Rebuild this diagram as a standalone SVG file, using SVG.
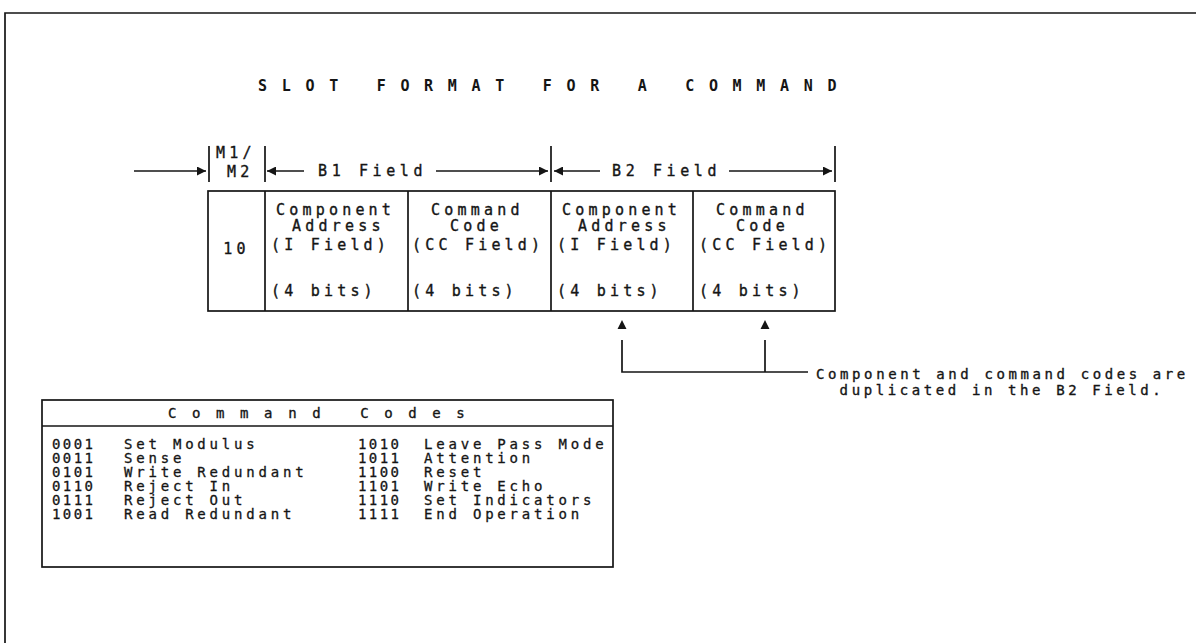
<svg xmlns="http://www.w3.org/2000/svg" width="1196" height="643" viewBox="0 0 1196 643">
<defs>
<style>
text{font-family:"DejaVu Sans Mono","Liberation Mono",monospace;fill:#151515;stroke:#151515;stroke-width:0.35}
.t{font-size:15px;letter-spacing:4.2px}
.s{font-size:14px;letter-spacing:3.8px;stroke-width:0.3}
.c{font-size:14px;letter-spacing:2.4px;stroke-width:0.3}
.n{font-size:14px;letter-spacing:3.6px}
.ttl{font-size:15px;font-weight:bold;letter-spacing:14.7px;stroke-width:0}
.hd{font-size:14px;letter-spacing:15.6px}
.f{font-size:15px;letter-spacing:4.6px}
.ln{stroke:#151515;stroke-width:1.7;fill:none}
</style>
<marker id="ah" viewBox="0 0 10 10" refX="10" refY="5" markerWidth="10" markerHeight="9" markerUnits="userSpaceOnUse" orient="auto">
<path d="M0,0 L10,5 L0,10 z" fill="#151515"/>
</marker>
</defs>
<rect width="1196" height="643" fill="#fff"/>
<g id="frame">
<path class="ln" d="M5,643 V13 H1196" stroke-width="2"/>
</g>
<g id="title"><text class="ttl" x="258" y="91">SLOT FORMAT FOR A COMMAND</text></g>
<g id="slot">
<rect class="ln" x="208" y="191" width="627" height="120"/>
<path class="ln" d="M265,191 V311 M408,191 V311 M551,191 V311 M693,191 V311"/>
<text class="t" x="236.5" y="254" text-anchor="middle" letter-spacing="1.5">10</text>
<text class="t" x="276" y="215">Component</text>
<text class="t" x="292" y="231">Address</text>
<text class="t" x="271" y="250">(I Field)</text>
<text class="t" x="271" y="296">(4 bits)</text>
<text class="t" x="431" y="215">Command</text>
<text class="t" x="450" y="231">Code</text>
<text class="t" x="412" y="250">(CC Field)</text>
<text class="t" x="412" y="296">(4 bits)</text>
<text class="t" x="562" y="215">Component</text>
<text class="t" x="578" y="231">Address</text>
<text class="t" x="557" y="250">(I Field)</text>
<text class="t" x="557" y="296">(4 bits)</text>
<text class="t" x="716" y="215">Command</text>
<text class="t" x="736" y="231">Code</text>
<text class="t" x="699" y="250">(CC Field)</text>
<text class="t" x="699" y="296">(4 bits)</text>
</g>
<g id="field-labels">
<text class="t" x="216" y="158" letter-spacing="1">M1/</text>
<text class="t" x="227" y="177" letter-spacing="1">M2</text>
<text class="f" x="318" y="176">B1 Field</text>
<text class="f" x="612" y="176">B2 Field</text>
</g>
<g id="connectors">
<path class="ln" d="M209,146 V182 M265,146 V182 M551,146 V182 M835,146 V182"/>
<path class="ln" d="M134,171 H206" marker-end="url(#ah)"/>
<path class="ln" d="M304,171 H267" marker-end="url(#ah)"/>
<path class="ln" d="M436,171 H548" marker-end="url(#ah)"/>
<path class="ln" d="M600,171 H554" marker-end="url(#ah)"/>
<path class="ln" d="M729,171 H832" marker-end="url(#ah)"/>
<path class="ln" d="M622,340 V372 H808 M765,340 V372"/>
<path d="M622,320 L626.5,329 L617.5,329 z M765,320 L769.5,329 L760.5,329 z" fill="#151515"/>
</g>
<g id="note">
<text class="n" x="816" y="379">Component and command codes are</text>
<text class="n" x="1002" y="395" text-anchor="middle">duplicated in the B2 Field.</text>
</g>
<g id="codes-table">
<rect class="ln" x="42" y="400" width="571" height="167"/>
<path class="ln" d="M42,426 H613"/>
<text class="hd" x="168" y="418">Command Codes</text>
<text class="c" x="52" y="449">0001</text><text class="s" x="124" y="449">Set Modulus</text>
<text class="c" x="52" y="463">0011</text><text class="s" x="124" y="463">Sense</text>
<text class="c" x="52" y="477">0101</text><text class="s" x="124" y="477">Write Redundant</text>
<text class="c" x="52" y="491">0110</text><text class="s" x="124" y="491">Reject In</text>
<text class="c" x="52" y="505">0111</text><text class="s" x="124" y="505">Reject Out</text>
<text class="c" x="52" y="519">1001</text><text class="s" x="124" y="519">Read Redundant</text>
<text class="c" x="358" y="449">1010</text><text class="s" x="424" y="449">Leave Pass Mode</text>
<text class="c" x="358" y="463">1011</text><text class="s" x="424" y="463">Attention</text>
<text class="c" x="358" y="477">1100</text><text class="s" x="424" y="477">Reset</text>
<text class="c" x="358" y="491">1101</text><text class="s" x="424" y="491">Write Echo</text>
<text class="c" x="358" y="505">1110</text><text class="s" x="424" y="505">Set Indicators</text>
<text class="c" x="358" y="519">1111</text><text class="s" x="424" y="519">End Operation</text>
</g>
</svg>
